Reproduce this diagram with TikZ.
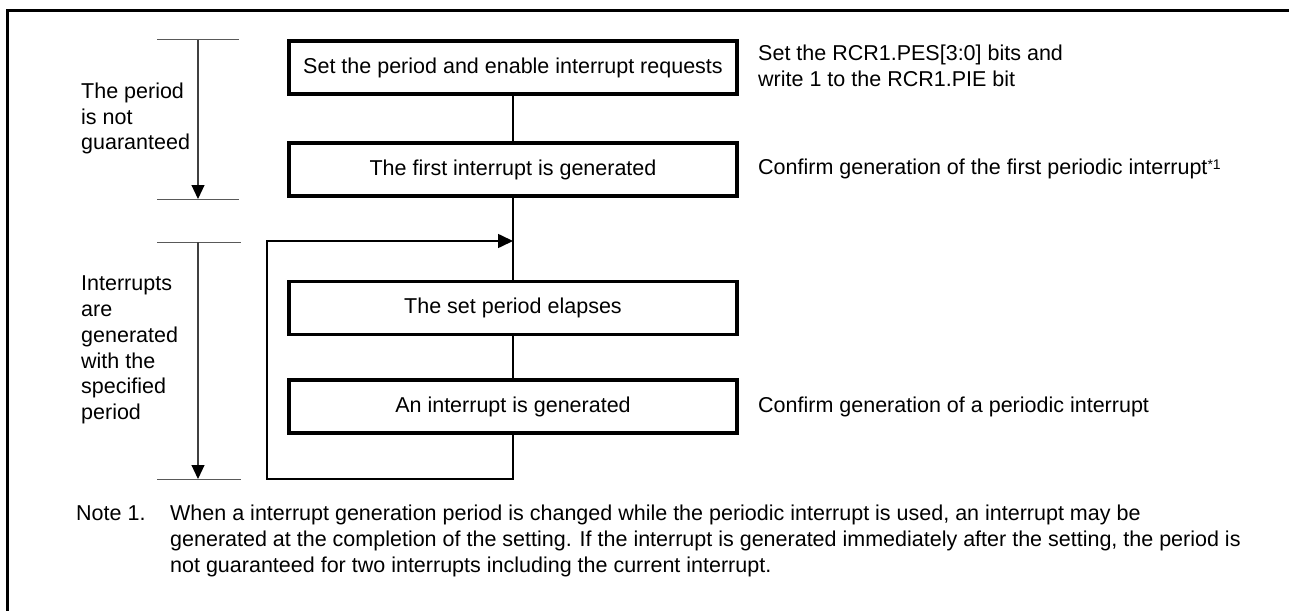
\documentclass[tikz,border=0pt]{standalone}
\usepackage{fontspec}
\setmainfont{Liberation Sans}
\usetikzlibrary{arrows.meta}
\begin{document}
\begin{tikzpicture}[x=1pt,y=-1pt,
  every node/.style={font=\fontsize{21.5}{25.8}\selectfont},
  stepbox/.style={draw, line width=3.3pt, minimum width=448pt, minimum height=53pt, inner sep=0pt},
  flow/.style={line width=1.6pt},
  flowarr/.style={line width=1.6pt, -{Triangle[length=15pt,width=14pt]}},
  tick/.style={line width=1pt, black!65},
  span/.style={line width=1.1pt, black!75, -{Triangle[length=14pt,width=13pt,color=black]}},
  lbl/.style={anchor=west, align=left, inner sep=0pt}]
\useasboundingbox (0,0) rectangle (1289,610);
% frame (top and left edges)
\draw[line width=3pt] (1292,11) -- (7,11) -- (7,612);
% boxes
\node[stepbox] (b1) at (513,67.5) {Set the period and enable interrupt requests};
\node[stepbox] (b2) at (513,169.5) {The first interrupt is generated};
\node[stepbox] (b3) at (513,308) {The set period elapses};
\node[stepbox] (b4) at (513,406.5) {An interrupt is generated};
% connectors
\coordinate (j) at (513,241);
\coordinate (lb) at (267,479);
\coordinate (lt) at (267,241);
\draw[flow] (b1.south) -- (b2.north);
\draw[flow] (b2.south) -- (b3.north);
\draw[flow] (b3.south) -- (b4.north);
\draw[flowarr] (b4.south) |- (lb) -- (lt) -- (j);
% left span markers
\coordinate (s1a) at (157,40);  \coordinate (s1b) at (239,40);
\coordinate (s1c) at (157,199); \coordinate (s1d) at (239,199);
\coordinate (s1t) at (198,40);  \coordinate (s1e) at (198,199);
\draw[tick] (s1a) -- (s1b);
\draw[tick] (s1c) -- (s1d);
\draw[span] (s1t) -- (s1e);
\coordinate (s2a) at (157,242); \coordinate (s2b) at (241,242);
\coordinate (s2c) at (157,479); \coordinate (s2d) at (241,479);
\coordinate (s2t) at (198,242); \coordinate (s2e) at (198,479);
\draw[tick] (s2a) -- (s2b);
\draw[tick] (s2c) -- (s2d);
\draw[span] (s2t) -- (s2e);
% left labels
\node[lbl] (l1) at (81,118.5) {The period\\is not\\guaranteed};
\node[lbl] (l2) at (81,350) {Interrupts\\are\\generated\\with the\\specified\\period};
% right annotations
\node[lbl] (r1) at (758,66) {Set the RCR1.PES[3:0] bits and\\write 1 to the RCR1.PIE bit};
\node[lbl] (r2) at (758,168.5) {Confirm generation of the first periodic interrupt{\fontsize{14}{14}\selectfont\raisebox{5pt}{*1}}};
\node[lbl] (r4) at (758,407) {Confirm generation of a periodic interrupt};
% note
\node[lbl] (note) at (76,541) {\makebox[94pt][l]{Note 1.}When a interrupt generation period is changed while the periodic interrupt is used, an interrupt may be\\
\hspace*{94pt}generated at the completion of the setting. If the interrupt is generated immediately after the setting, the period is\\
\hspace*{94pt}not guaranteed for two interrupts including the current interrupt.};
\end{tikzpicture}
\end{document}
